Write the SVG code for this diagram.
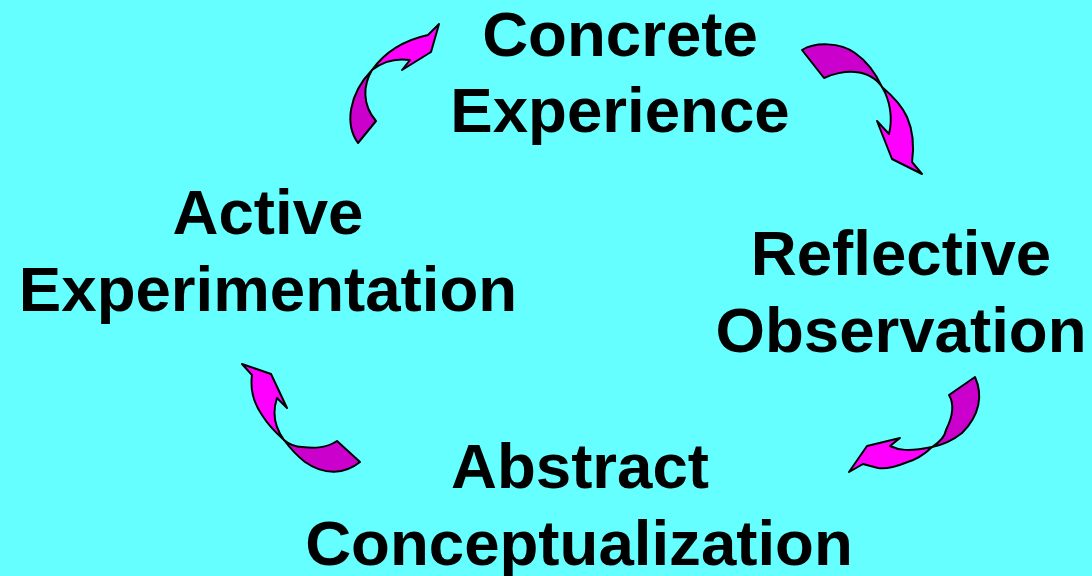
<svg xmlns="http://www.w3.org/2000/svg" width="1092" height="576" viewBox="0 0 1092 576">
  <style>
    .label { font-family: "Liberation Sans", Arial, sans-serif; font-weight: bold; font-size: 63.6px; fill: #000; text-anchor: middle; }
    .back { fill: #CC00CC; stroke: #000; stroke-width: 2; stroke-linejoin: round; }
    .front { fill: #FF00FF; stroke: #000; stroke-width: 2; stroke-linejoin: round; }
  </style>
  <rect width="1092" height="576" fill="#66FFFF"/>

  <!-- curved ribbon arrows of the cycle -->
  <g id="connectors">
    <g id="arrow-ae-to-ce">
      <path class="back" d="M358,143 C345,125 348,95 372,70 C363,85 362,105 376,121 Z"/>
      <path class="front" d="M372,70 C385,52 405,40 428,35 L439,24 L431,52 L402,70 L410,60 C396,58 382,62 372,70 Z"/>
    </g>
    <g id="arrow-ce-to-ro">
      <path class="back" d="M802,50 C815,42 840,42 855,53 C868,62 876,74 882,87 C876,78 866,73 855,72 C845,71 832,74 824,78 Z"/>
      <path class="front" d="M882,87 C895,98 903,108 907,117 C914,133 914,148 912,162 L922,174 L892,159 L877,121 L889,134 C893,118 890,100 882,87 Z"/>
    </g>
    <g id="arrow-ro-to-ac">
      <path class="back" d="M975,377 C983,395 980,415 962,433 C952,441 942,445 932,447 C940,442 945,436 946,430 C952,418 955,405 949,395 Z"/>
      <path class="front" d="M932,447 C922,457 912,461 905,463 C895,467 885,469 878,468 L863,464 L849,472 L867,446 L900,438 L890,446 C898,450 908,452 932,447 Z"/>
    </g>
    <g id="arrow-ac-to-ae">
      <path class="back" d="M360,462 C345,474 325,476 305,462 C296,455 290,448 284,440 C290,445 296,447 302,447 C312,448 325,449 337,441 Z"/>
      <path class="front" d="M284,440 C275,432 267,423 262,415 C253,402 250,390 252,375 L242,364 L271,374 L287,408 L277,398 C273,410 273,425 284,440 Z"/>
    </g>
  </g>

  <!-- stages of the cycle -->
  <g id="concrete-experience">
    <text class="label" x="620" y="56">Concrete</text>
    <text class="label" x="620" y="132">Experience</text>
  </g>
  <g id="reflective-observation">
    <text class="label" x="901" y="275">Reflective</text>
    <text class="label" x="901" y="352">Observation</text>
  </g>
  <g id="abstract-conceptualization">
    <text class="label" x="580" y="488">Abstract</text>
    <text class="label" x="579" y="565">Conceptualization</text>
  </g>
  <g id="active-experimentation">
    <text class="label" x="268" y="234">Active</text>
    <text class="label" x="268" y="311">Experimentation</text>
  </g>
</svg>
